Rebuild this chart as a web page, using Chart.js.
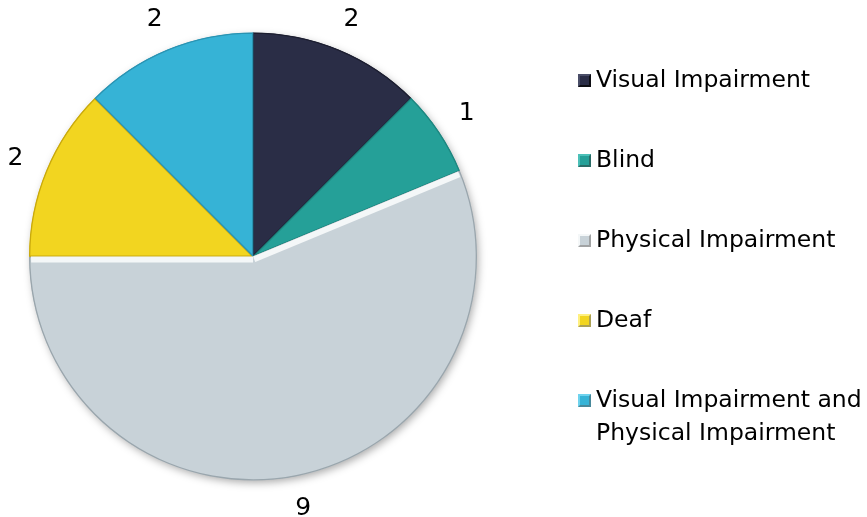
<!DOCTYPE html>
<html>
<head>
<meta charset="utf-8">
<script src="https://cdn.jsdelivr.net/npm/chart.js@4.4.1/dist/chart.umd.min.js"></script>
<style>
  html, body { margin: 0; padding: 0; background: #fff; }
  #wrap { position: relative; width: 867px; height: 517px; }
  #pie { position: absolute; left: 0; top: 0; }
  #legend { position: absolute; left: 578px; top: 0; font-family: "DejaVu Sans", sans-serif; font-size: 23.5px; color: #000; }
  .item { position: absolute; left: 0; white-space: nowrap; line-height: 33px; }
  .box { position: absolute; left: 0; top: 11px; width: 13px; height: 13px; box-sizing: border-box; }
  .txt { position: absolute; left: 18px; top: 0; }
</style>
</head>
<body>
<div id="wrap">
  <canvas id="pie" width="867" height="517"></canvas>
  <div id="legend"></div>
</div>
<script>
// slices, clockwise from 12 o'clock
const categories = ["Visual Impairment", "Blind", "Physical Impairment", "Deaf", "Visual Impairment and Physical Impairment"];
const legendLines = [["Visual Impairment"], ["Blind"], ["Physical Impairment"], ["Deaf"], ["Visual Impairment and", "Physical Impairment"]];
const counts = [2, 1, 9, 2, 2];
const colors = ["#2a2d46", "#25a098", "#c8d2d8", "#f2d520", "#36b3d6"];
const edgeColors = ["#1c1e30", "#1d8780", "#9aa6ad", "#c9a90c", "#2a93b2"];
const lightColors = ["#4a4e68", "#4cc0b8", "#f4f7f8", "#fff080", "#6fd3ee"];

// numbers outside the pie
const outsideLabels = {
  id: 'outsideLabels',
  afterDatasetsDraw(chart) {
    const ctx = chart.ctx;
    const meta = chart.getDatasetMeta(0);
    ctx.save();
    ctx.font = '25px "DejaVu Sans"';
    ctx.fillStyle = '#000';
    ctx.textAlign = 'center';
    ctx.textBaseline = 'middle';
    meta.data.forEach((arc, i) => {
      const mid = (arc.startAngle + arc.endAngle) / 2;
      const r = arc.outerRadius + 33;
      ctx.fillText(String(counts[i]), arc.x + Math.cos(mid) * r, arc.y + Math.sin(mid) * r);
    });
    ctx.restore();
  }
};

// soft shadow under the pie
const pieShadow = {
  id: 'pieShadow',
  beforeDatasetsDraw(chart) {
    const arc = chart.getDatasetMeta(0).data[0];
    if (!arc) return;
    const ctx = chart.ctx;
    ctx.save();
    ctx.shadowColor = 'rgba(0,0,0,0.35)';
    ctx.shadowBlur = 8;
    ctx.shadowOffsetX = 2;
    ctx.shadowOffsetY = 3;
    ctx.fillStyle = '#bbb';
    ctx.beginPath();
    ctx.arc(arc.x, arc.y, arc.outerRadius - 1, 0, Math.PI * 2);
    ctx.fill();
    ctx.restore();
  }
};

// light bevel along the straight edges of the big slice
const bevel = {
  id: 'bevel',
  afterDatasetsDraw(chart) {
    const meta = chart.getDatasetMeta(0);
    const ctx = chart.ctx;
    const arc = meta.data[2];
    if (!arc) return;
    ctx.save();
    ctx.beginPath();
    ctx.moveTo(arc.x, arc.y);
    ctx.arc(arc.x, arc.y, arc.outerRadius - 2, arc.startAngle, arc.endAngle);
    ctx.closePath();
    ctx.clip();
    ctx.strokeStyle = lightColors[2];
    ctx.lineWidth = 12;
    [arc.startAngle, arc.endAngle].forEach(a => {
      ctx.beginPath();
      ctx.moveTo(arc.x, arc.y);
      ctx.lineTo(arc.x + Math.cos(a) * arc.outerRadius, arc.y + Math.sin(a) * arc.outerRadius);
      ctx.stroke();
    });
    ctx.restore();
  }
};

// slight radial shading per slice
function shade(context) {
  const chart = context.chart;
  const arc = chart.getDatasetMeta(0).data[context.dataIndex];
  const base = colors[context.dataIndex];
  if (!arc || !arc.outerRadius) return base;
  const g = chart.ctx.createRadialGradient(arc.x, arc.y, 0, arc.x, arc.y, arc.outerRadius);
  g.addColorStop(0, base);
  g.addColorStop(0.88, base);
  g.addColorStop(1, Chart.helpers.color(base).darken(0.14).rgbString());
  return g;
}

new Chart(document.getElementById('pie'), {
  type: 'pie',
  data: {
    labels: categories,
    datasets: [{
      data: counts,
      backgroundColor: shade,
      borderColor: edgeColors,
      borderWidth: 1,
      borderAlign: 'inner'
    }]
  },
  options: {
    responsive: false,
    animation: false,
    layout: { padding: { left: 29, right: 390, top: 32, bottom: 36 } },
    plugins: {
      legend: { display: false },
      tooltip: { enabled: false }
    }
  },
  plugins: [pieShadow, bevel, outsideLabels]
});

// legend on the right
const legendTops = [63, 143, 223, 303, 383];
const legend = document.getElementById('legend');
categories.forEach((c, i) => {
  const item = document.createElement('div');
  item.className = 'item';
  item.style.top = legendTops[i] + 'px';
  const box = document.createElement('div');
  box.className = 'box';
  box.style.background = colors[i];
  box.style.border = '2px outset ' + lightColors[i];
  const txt = document.createElement('div');
  txt.className = 'txt';
  txt.innerHTML = legendLines[i].join('<br>');
  item.appendChild(box);
  item.appendChild(txt);
  legend.appendChild(item);
});
</script>
</body>
</html>
